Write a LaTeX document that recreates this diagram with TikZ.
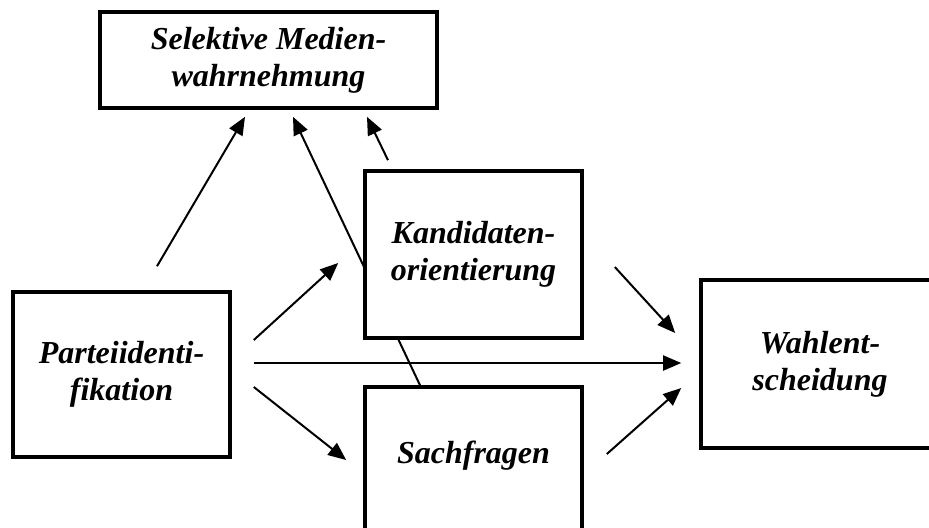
\documentclass[tikz,border=0pt]{standalone}
\usepackage{fontspec}
\setmainfont{Liberation Serif}
\usetikzlibrary{arrows.meta,calc,backgrounds}

\tikzset{
  box/.style={draw, line width=1.8pt, fill=white, inner sep=0pt, align=center,
    font=\bfseries\itshape\fontsize{16}{18.5}\selectfont},
  arr/.style={line width=1pt, -{Triangle[length=9pt,width=7.5pt]}}
}

\begin{document}
\begin{tikzpicture}[x=0.5pt,y=0.5pt]
            \useasboundingbox (0,0) rectangle (929,-527);
            \clip (0,0) rectangle (929,-527);
            % boxes
            \node [box, minimum width=168.5pt, minimum height=48pt] (medien) at (268.5,-60) {Selektive Medien-\\wahrnehmung};
            \node [box, minimum width=108.5pt, minimum height=82.5pt] (partei) at (121.5,-374.5) {Parteiidenti-\\fikation};
            \node [box, minimum width=108.5pt, minimum height=83.5pt] (kand) at (473.5,-254.5) {Kandidaten-\\orientierung};
            \node [box, minimum width=108.5pt, text height=38pt, text depth=48.5pt, anchor=base] (sach) at (473.5,-463) {Sachfragen};
            \node [box, minimum width=119pt, minimum height=84pt] (wahl) at (820,-364) {Wahlent-\\scheidung};
            % arrows
            \begin{scope}[on background layer]
            \draw [arr] ($(sach.north)+(-53.5,0)$) -- ($(medien.south)+(24.5,-7)$);
            \end{scope}
            \draw [arr] ($(partei.north)+(35.5,24)$) -- ($(medien.south)+(-23.5,-7)$);
            \draw [arr] ($(kand.north)+(-85.5,9)$) -- ($(medien.south)+(98.5,-7)$);
            \draw [arr] ($(partei.east)+(22,34.5)$) -- ($(kand.west)+(-25,-8.5)$);
            \draw [arr] ($(partei.east)+(22,11.5)$) -- ($(wahl.west)+(-18,1)$);
            \draw [arr] ($(partei.east)+(22,-12.5)$) -- ($(sach.west)+(-17,13.5)$);
            \draw [arr] ($(kand.east)+(31,-12.5)$) -- ($(wahl.west)+(-24,31)$);
            \draw [arr] ($(sach.east)+(23,19.5)$) -- ($(wahl.west)+(-18,-24)$);
\end{tikzpicture}
\end{document}
